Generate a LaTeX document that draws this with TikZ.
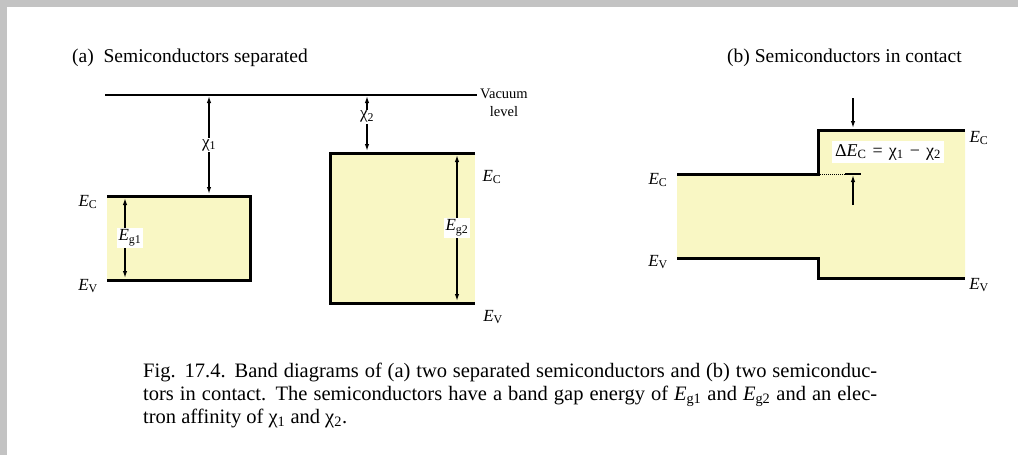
\documentclass[tikz,border=0pt]{standalone}
\usepackage{fontspec}
\setmainfont{Liberation Serif}
\usetikzlibrary{arrows.meta}
\definecolor{bandyellow}{RGB}{249,247,196}
\definecolor{framegray}{RGB}{195,195,195}
\tikzset{
  band/.style={line width=3pt},
  vacuum/.style={line width=1.4pt},
  dimarrow/.style={line width=1.3pt, {Latex[length=7pt,width=4.4pt]}-{Latex[length=7pt,width=4.4pt]}},
  onearrow/.style={line width=1.3pt, -{Latex[length=7pt,width=4.4pt]}},
  gaplabel/.style={fill=white, inner sep=1.5pt, font=\fontsize{17}{17}\selectfont},
  edgelabel/.style={inner sep=1pt, font=\fontsize{17}{17}\selectfont},
  titletext/.style={anchor=base west, inner sep=0pt, font=\fontsize{19.5}{20}\selectfont},
  captext/.style={anchor=base west, inner sep=0pt, font=\fontsize{20.5}{23}\selectfont},
}
\newcommand{\En}[1]{\textit{E}\textsubscript{#1}}
\newcommand{\chin}[1]{χ\textsubscript{#1}}
\begin{document}
\begin{tikzpicture}[x=1pt, y=-1pt]
  \useasboundingbox (0,0) rectangle (1018,455);
  % Cornice grigia
  \fill[framegray] (0,0) rectangle (1018,7);
  \fill[framegray] (0,0) rectangle (7,455);

  % Titoli
  \node[titletext] (titlea) at (72,62) {(a)\ \ Semiconductors separated};
  \node[titletext] (titleb) at (727,62) {(b) Semiconductors in contact};

  % Livello del vuoto
  \coordinate (vacl) at (105,95);
  \coordinate (vacr) at (477,95);
  \draw[vacuum] (vacl) -- (vacr);
  \node[anchor=west, align=center, inner sep=1pt, font=\fontsize{14.5}{18}\selectfont] (vaclabel) at (479,103) {Vacuum\\level};

  % Semiconduttore 1
  \coordinate (ac1) at (107,196); \coordinate (bc1) at (250,196);
  \coordinate (av1) at (107,280); \coordinate (bv1) at (250,280);
  \fill[bandyellow] (ac1) rectangle (bv1);
  \draw[band] (ac1) -- (bc1) -- (bv1) -- (av1);
  \node[edgelabel] (ec1) at (88,202) {\En{C}};
  \node[edgelabel] (ev1) at (88,286) {\En{V}};

  % Semiconduttore 2
  \coordinate (ac2) at (330,153); \coordinate (bc2) at (475,153);
  \coordinate (av2) at (330,303); \coordinate (bv2) at (475,303);
  \fill[bandyellow] (ac2) rectangle (bv2);
  \draw[band] (bc2) -- (ac2) -- (av2) -- (bv2);
  \node[edgelabel] (ec2) at (492,177) {\En{C}};
  \node[edgelabel] (ev2) at (493,317) {\En{V}};

  % Affinita' elettroniche e gap
  \coordinate (chi1t) at (209,96);  \coordinate (chi1b) at (209,194);
  \coordinate (chi2t) at (367,96);  \coordinate (chi2b) at (367,151);
  \coordinate (eg1t) at (125,198);  \coordinate (eg1b) at (125,278);
  \coordinate (eg2t) at (457,155);  \coordinate (eg2b) at (457,301);
  \draw[dimarrow] (chi1t) -- node[gaplabel] (chi1) {\chin{1}} (chi1b);
  \draw[dimarrow] (chi2t) -- node[gaplabel, pos=0.38] (chi2) {\chin{2}} (chi2b);
  \draw[dimarrow] (eg1t) -- node[gaplabel, xshift=5pt] (eg1) {\En{g1}} (eg1b);
  \draw[dimarrow] (eg2t) -- node[gaplabel] (eg2) {\En{g2}} (eg2b);

  % Semiconduttori in contatto
  \coordinate (lc) at (677,174); \coordinate (sc) at (818,174);
  \coordinate (tc) at (818,130); \coordinate (rc) at (965,130);
  \coordinate (lv) at (677,258); \coordinate (sv) at (818,258);
  \coordinate (tv) at (818,278); \coordinate (rv) at (965,278);
  \fill[bandyellow] (lc) -- (sc) -- (tc) -- (rc) -- (rv) -- (tv) -- (sv) -- (lv) -- cycle;
  \draw[band] (lc) -- (sc) -- (tc) -- (rc);
  \draw[band] (lv) -- (sv) -- (tv) -- (rv);
  \node[edgelabel] (ec3) at (658,180) {\En{C}};
  \node[edgelabel] (ev3) at (658,262) {\En{V}};
  \node[edgelabel] (ec4) at (979,138) {\En{C}};
  \node[edgelabel] (ev4) at (979,285) {\En{V}};

  % Discontinuita' di banda
  \coordinate (dtop) at (853,98);  \coordinate (dup) at (853,128);
  \coordinate (dbot) at (853,205); \coordinate (dlo) at (853,175);
  \coordinate (tick1) at (845,174); \coordinate (tick2) at (861,174);
  \draw[onearrow] (dtop) -- (dup);
  \draw[onearrow] (dbot) -- (dlo);
  \draw[line width=1pt, densely dotted] (sc) -- (tick1);
  \draw[line width=1.3pt] (tick1) -- (tick2);
  \node[fill=white, inner sep=3pt, font=\fontsize{18}{18}\selectfont] (dec) at (888,152)
    {\makebox[106pt][s]{Δ\En{C} = \chin{1} − \chin{2}}};

  % Didascalia
  \node[captext] (cap1) at (143,377) {\makebox[734pt][s]{Fig. 17.4. Band diagrams of (a) two separated semiconductors and (b) two semiconduc-}};
  \node[captext] (cap2) at (143,400) {\makebox[734pt][s]{tors in contact. The semiconductors have a band gap energy of \En{g1} and \En{g2} and an elec-}};
  \node[captext] (cap3) at (143,423) {tron affinity of \chin{1} and \chin{2}.};
\end{tikzpicture}
\end{document}
